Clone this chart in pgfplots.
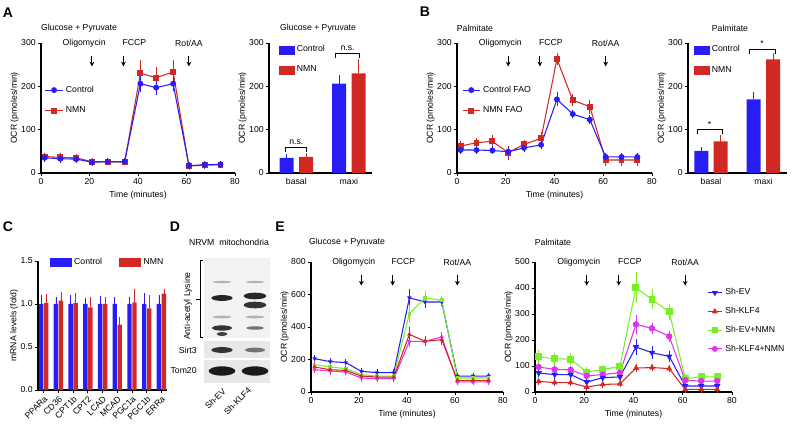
\documentclass[border=0pt]{standalone}
\usepackage{pgfplots}
\pgfplotsset{compat=1.18}
\usepackage{pgfplotstable}
\usepackage{fontspec}
\setmainfont{Liberation Sans}
\usetikzlibrary{arrows.meta}
\definecolor{cblue}{RGB}{40,30,245}
\definecolor{cred}{RGB}{210,40,35}
\definecolor{cgreen}{RGB}{120,240,40}
\definecolor{cmag}{RGB}{225,50,240}
\newcommand{\fs}{\fontsize{6.5}{7.5}\selectfont}
\newcommand{\fl}{\fontsize{10.5}{12}\selectfont\bfseries}
\pgfplotsset{
  gp/.style={scale only axis, anchor=south west, axis lines=left,
    axis line style={-, line width=0.9pt}, every tick/.style={black, line width=0.7pt},
    tick align=outside, major tick length=2.5pt, font=\fs,
    every tick label/.append style={inner sep=1.3pt},
    /pgf/number format/assume math mode=true, clip=false,
    xlabel style={font=\fs}, ylabel style={font=\fs}, ylabel shift=-3pt,
    legend style={draw=none, fill=none, font=\fs, inner sep=0pt, outer sep=0pt},
    legend cell align=left},
  lc/.style={gp, height=97.5pt, xmin=0, xmax=80, xtick={0,20,40,60,80}, ymin=0,
    xlabel={Time (minutes)}, ylabel={OCR (pmoles/min)}},
  bc/.style={gp, height=97.5pt, ymin=0, ymax=300, ytick={0,100,200,300}, xtick={0,1},
    xticklabels={basal,maxi}, major x tick style={draw=none}, ylabel={OCR (pmoles/min)}},
  ebs/.style={/pgfplots/error bars/y dir=both, /pgfplots/error bars/y explicit,
    /pgfplots/error bars/error bar style={line width=0.6pt, #1},
    /pgfplots/error bars/error mark options={#1, line width=0.6pt, mark size=2pt}},
  ebp/.style={/pgfplots/error bars/y dir=plus, /pgfplots/error bars/y explicit,
    /pgfplots/error bars/error bar style={line width=0.7pt, #1},
    /pgfplots/error bars/error mark options={#1, line width=0.7pt, mark size=2.5pt}},
}
\newcommand{\annot}[3]{%
 \node[font=\fs] at (axis cs:17.8,#1) {Oligomycin};
 \node[font=\fs] at (axis cs:38.5,#1) {FCCP};
 \node[font=\fs] at (axis cs:61,#1) {Rot/AA};
 \draw[-{Stealth[length=3.5pt,width=3.5pt]}, line width=0.8pt] (axis cs:21,#2) -- (axis cs:21,#3);
 \draw[-{Stealth[length=3.5pt,width=3.5pt]}, line width=0.8pt] (axis cs:34,#2) -- (axis cs:34,#3);
 \draw[-{Stealth[length=3.5pt,width=3.5pt]}, line width=0.8pt] (axis cs:61,#2) -- (axis cs:61,#3);
}

\pgfplotstableread{
t c ce n ne
1.5 35 3 38 3
8 33 3 36 3
14.5 32 3 35 3
21 25 2 26 2
27.5 26 2 26 2
34.5 26 2 26 2
41 206 12 230 25
47.5 197 10 220 18
54.5 206 10 233 22
61 17 2 16 2
67.5 19 2 18 2
74 20 2 19 2
}\tabA
\pgfplotstableread{
t c ce n ne
1.5 53 3 62 5
8 53 3 70 4
14.5 52 3 73 8
21 49 5 47 10
27.5 58 3 66 5
34.5 65 3 80 8
41 170 10 263 8
47.5 136 4 168 8
54.5 123 4 153 10
61 37 4 30 8
67.5 37 4 30 8
74 37 4 30 8
}\tabB
\pgfplotstableread{
t b be g ge r re m me
1.5 205 5 168 10 154 15 137 5
8 187 5 154 15 137 10 129 5
14.5 181 5 144 10 133 10 123 5
21 127 5 107 5 98 5 86 5
27.5 119 5 98 5 92 5 82 5
34.5 119 5 98 5 92 5 82 5
41 580 35 482 40 355 30 312 20
47.5 554 20 580 25 312 15 312 10
54.5 554 10 564 10 322 15 338 15
61 98 5 86 5 72 5 62 5
67.5 98 5 86 5 72 5 62 5
74 98 5 86 5 72 5 62 5
}\tabEL
\pgfplotstableread{
t b be g ge r re m me
1.5 73 6 135 15 41 3 96 6
8 67 5 128 12 36 3 87 6
14.5 67 5 126 12 36 3 85 6
21 38 6 77 8 19 3 62 6
27.5 55 8 86 8 29 3 67 6
34.5 58 8 99 8 31 3 74 6
41 173 20 401 50 92 4 260 25
47.5 151 15 356 28 94 4 245 12
54.5 137 12 308 22 90 4 214 12
61 23 6 51 8 10 3 45 5
67.5 23 6 58 6 10 3 42 5
74 23 6 58 6 10 3 42 5
}\tabER
\pgfplotstableread{
xc xn c ce n ne
-0.17 0.17 1.00 0.09 1.01 0.09
0.83 1.17 1.00 0.06 1.04 0.08
1.83 2.17 1.00 0.09 1.01 0.10
2.83 3.17 1.00 0.05 0.96 0.10
3.83 4.17 1.00 0.07 1.00 0.06
4.83 5.17 1.00 0.06 0.76 0.07
5.83 6.17 1.00 0.06 1.02 0.13
6.83 7.17 1.00 0.11 0.95 0.13
7.83 8.17 1.00 0.09 1.12 0.04
}\tabC

\begin{document}
\begin{tikzpicture}
\useasboundingbox (0,0) rectangle (600pt,318pt);

% panel letters and titles
\node[font=\fl] at (6pt,308.25pt) {A};
\node[font=\fl] at (318.75pt,309pt) {B};
\node[font=\fl] at (6pt,147.75pt) {C};
\node[font=\fl] at (131.25pt,147.75pt) {D};
\node[font=\fl] at (210pt,147.75pt) {E};
\node[font=\fs] at (59.25pt,297pt) {Glucose + Pyruvate};
\node[font=\fs] at (238.5pt,297pt) {Glucose + Pyruvate};
\node[font=\fs] at (356.25pt,297pt) {Palmitate};
\node[font=\fs] at (547.5pt,297pt) {Palmitate};
\node[font=\fs] at (260.25pt,136.5pt) {Glucose + Pyruvate};
\node[font=\fs] at (414.75pt,136.5pt) {Palmitate};

% ---------- A line
\begin{axis}[lc, at={(30.75pt,188.25pt)}, width=145.5pt, ymax=300, ytick={0,100,200,300},
  legend style={at={(0.02,0.69)}, anchor=north west, row sep=5.5pt},
  legend image code/.code={\draw[mark repeat=2,mark phase=2,#1] plot coordinates {(0pt,0pt) (6.5pt,0pt) (13pt,0pt)};}]
\addlegendimage{cblue, line width=0.8pt, mark=*, mark size=1.8pt}
\addlegendentry{Control}
\addlegendimage{cred, line width=0.8pt, mark=square*, mark size=1.8pt}
\addlegendentry{NMN}
\addplot[forget plot, cred, line width=0.8pt, mark=square*, mark size=1.8pt, ebs=cred] table[x=t,y=n,y error=ne]{\tabA};
\addplot[forget plot, cblue, line width=0.8pt, mark=*, mark size=1.8pt, ebs=cblue] table[x=t,y=c,y error=ce]{\tabA};
\annot{300}{270}{246}
\end{axis}

% ---------- A bar
\begin{axis}[bc, at={(201.75pt,188.25pt)}, width=77.25pt, xmin=-0.52, xmax=1.44,
  legend style={at={(0.097,1.0)}, anchor=north west, row sep=5pt},
  legend image code/.code={\fill[#1] (0pt,-3pt) rectangle (11pt,3pt);}]
\addlegendimage{cblue}\addlegendentry{Control}
\addlegendimage{cred}\addlegendentry{NMN}
\addplot[forget plot, ybar, bar width=10.5pt, bar shift=0pt, fill=cblue, draw=none, ebp=cblue]
  coordinates {(-0.185,35) +- (0,2) (0.815,206) +- (0,12)};
\addplot[forget plot, ybar, bar width=10.5pt, bar shift=0pt, fill=cred, draw=none, ebp=cred]
  coordinates {(0.185,37) +- (0,2) (1.185,230) +- (0,25)};
\draw[line width=0.6pt] (axis cs:-0.2,48) -- (axis cs:-0.2,58) -- (axis cs:0.2,58) -- (axis cs:0.2,48);
\node[font=\fs] at (axis cs:0,71) {n.s.};
\draw[line width=0.6pt] (axis cs:0.75,265) -- (axis cs:0.75,275) -- (axis cs:1.2,275) -- (axis cs:1.2,265);
\node[font=\fs] at (axis cs:0.975,288) {n.s.};
\end{axis}

% ---------- B line
\begin{axis}[lc, at={(342.75pt,188.25pt)}, width=146.25pt, ymax=300, ytick={0,100,200,300},
  legend style={at={(0.026,0.69)}, anchor=north west, row sep=5.5pt},
  legend image code/.code={\draw[mark repeat=2,mark phase=2,#1] plot coordinates {(0pt,0pt) (6.5pt,0pt) (13pt,0pt)};}]
\addlegendimage{cblue, line width=0.8pt, mark=*, mark size=1.8pt}
\addlegendentry{Control FAO}
\addlegendimage{cred, line width=0.8pt, mark=square*, mark size=1.8pt}
\addlegendentry{NMN FAO}
\addplot[forget plot, cred, line width=0.8pt, mark=square*, mark size=1.8pt, ebs=cred] table[x=t,y=n,y error=ne]{\tabB};
\addplot[forget plot, cblue, line width=0.8pt, mark=*, mark size=1.8pt, ebs=cblue] table[x=t,y=c,y error=ce]{\tabB};
\annot{300}{270}{246}
\end{axis}

% ---------- B bar
\begin{axis}[bc, at={(516pt,188.25pt)}, width=74.25pt, xmin=-0.44, xmax=1.45,
  legend style={at={(0.06,1.0)}, anchor=north west, row sep=5.5pt},
  legend image code/.code={\fill[#1] (0pt,-3pt) rectangle (11pt,3pt);}]
\addlegendimage{cblue}\addlegendentry{Control}
\addlegendimage{cred}\addlegendentry{NMN}
\addplot[forget plot, ybar, bar width=10.5pt, bar shift=0pt, fill=cblue, draw=none, ebp=cblue]
  coordinates {(-0.185,51) +- (0,2) (0.815,170) +- (0,10)};
\addplot[forget plot, ybar, bar width=10.5pt, bar shift=0pt, fill=cred, draw=none, ebp=cred]
  coordinates {(0.185,73) +- (0,7) (1.185,262) +- (0,7)};
\draw[line width=0.6pt] (axis cs:-0.27,90) -- (axis cs:-0.27,101) -- (axis cs:0.21,101) -- (axis cs:0.21,90);
\node[font=\fs] at (axis cs:-0.03,113) {*};
\draw[line width=0.6pt] (axis cs:0.73,275) -- (axis cs:0.73,286) -- (axis cs:1.22,286) -- (axis cs:1.22,275);
\node[font=\fs] at (axis cs:0.975,298) {*};
\end{axis}

% ---------- C
\begin{axis}[gp, at={(28.5pt,25.5pt)}, width=96.75pt, height=96.75pt,
  xmin=-0.39, xmax=8.38, ymin=0, ymax=1.5, ytick={0,0.5,1,1.5},
  yticklabel style={/pgf/number format/.cd, fixed, fixed zerofill, precision=1},
  xtick={0,...,8}, xticklabels={PPARa,CD36,CPT1b,CPT2,LCAD,MCAD,PGC1a,PGC1b,ERRa},
  xticklabel style={rotate=45, anchor=north east, inner sep=1pt},
  ylabel={mRNA levels (fold)},
  legend columns=2,
  legend style={at={(0.093,0.99)}, anchor=west, /tikz/every even column/.append style={column sep=11pt}},
  legend image code/.code={\fill[#1] (0pt,-3pt) rectangle (15.75pt,3pt);}]
\addlegendimage{cblue}\addlegendentry{Control}
\addlegendimage{cred}\addlegendentry{NMN}
\addplot[forget plot, ybar, bar width=3.3pt, bar shift=0pt, fill=cblue, draw=none,
  /pgfplots/error bars/y dir=plus, /pgfplots/error bars/y explicit,
  /pgfplots/error bars/error bar style={line width=0.6pt, cblue},
  /pgfplots/error bars/error mark options={cblue, line width=0.6pt, mark size=1.3pt}]
  table[x=xc,y=c,y error=ce]{\tabC};
\addplot[forget plot, ybar, bar width=3.3pt, bar shift=0pt, fill=cred, draw=none,
  /pgfplots/error bars/y dir=plus, /pgfplots/error bars/y explicit,
  /pgfplots/error bars/error bar style={line width=0.6pt, cred},
  /pgfplots/error bars/error mark options={cred, line width=0.6pt, mark size=1.3pt}]
  table[x=xn,y=n,y error=ne]{\tabC};
\end{axis}

% ---------- D (blot sketch)
\node[font=\fs] at (171.75pt,136.5pt) {NRVM~~mitochondria};
\fill[gray!10] (153pt,64.5pt) rectangle (202.5pt,124.5pt);
\fill[gray!18] (153pt,49.5pt) rectangle (202.5pt,62.25pt);
\fill[gray!18] (153pt,30.75pt) rectangle (202.5pt,48pt);
\fill[black!30] (166.5pt,106.5pt) ellipse (7pt and 0.8pt);
\fill[black!30] (191.25pt,106.5pt) ellipse (7pt and 0.8pt);
\fill[black!85] (166.5pt,94.5pt) ellipse (8pt and 2.2pt);
\fill[black!85] (191.25pt,96pt) ellipse (8.5pt and 2.5pt);
\fill[black!80] (191.25pt,89.25pt) ellipse (8.5pt and 2.5pt);
\fill[black!30] (166.5pt,80.25pt) ellipse (7pt and 1pt);
\fill[black!30] (191.25pt,80.25pt) ellipse (7pt and 1pt);
\fill[black!80] (166.5pt,72pt) ellipse (7.5pt and 2pt);
\fill[black!55] (191.25pt,72pt) ellipse (6.5pt and 1.3pt);
\fill[black!75] (166.5pt,67.5pt) ellipse (4pt and 1.5pt);
\fill[black!80] (166.5pt,55.5pt) ellipse (8pt and 2.2pt);
\fill[black!55] (191.25pt,55.5pt) ellipse (7.5pt and 1.8pt);
\fill[black!90] (166.5pt,39.75pt) ellipse (10pt and 3.5pt);
\fill[black!90] (191.25pt,39.75pt) ellipse (10pt and 3.5pt);
\draw[line width=0.7pt] (152.5pt,123pt) -- (150pt,123pt) -- (150pt,65.25pt) -- (152.5pt,65.25pt);
\draw[line width=0.7pt] (147pt,93.75pt) -- (150pt,93.75pt);
\node[font=\fs, rotate=90] at (141pt,88.5pt) {Anti-acetyl Lysine};
\node[font=\fs, anchor=east] at (151pt,55.5pt) {Sirt3};
\node[font=\fs, anchor=east] at (151pt,39.75pt) {Tom20};
\node[font=\fs, rotate=45, anchor=east, inner sep=1pt] at (169pt,26.5pt) {Sh-EV};
\node[font=\fs, rotate=45, anchor=east, inner sep=1pt] at (188pt,27pt) {Sh-KLF4};

% ---------- E left
\begin{axis}[lc, at={(233.25pt,24pt)}, width=144pt, ymax=800, ytick={0,200,400,600,800}]
\addplot[cblue, line width=0.8pt, mark=triangle*, mark size=1.2pt, mark options={rotate=180}, ebs=cblue] table[x=t,y=b,y error=be]{\tabEL};
\addplot[cgreen, line width=0.8pt, mark=square*, mark size=1pt, ebs=cgreen] table[x=t,y=g,y error=ge]{\tabEL};
\addplot[cmag, line width=0.8pt, mark=*, mark size=1pt, ebs=cmag] table[x=t,y=m,y error=me]{\tabEL};
\addplot[cred, line width=0.8pt, mark=triangle*, mark size=1.2pt, ebs=cred] table[x=t,y=r,y error=re]{\tabEL};
\annot{800}{720}{655}
\end{axis}

% ---------- E right
\begin{axis}[lc, at={(401.25pt,24pt)}, width=147.75pt, ymax=500, ytick={0,100,200,300,400,500},
  legend style={at={(0.873,0.815)}, anchor=north west, row sep=3.8pt},
  legend image code/.code={\draw[mark repeat=2,mark phase=2,#1] plot coordinates {(0pt,0pt) (5.5pt,0pt) (11pt,0pt)};}]
\addlegendimage{cblue, line width=0.8pt, mark=triangle*, mark size=1.8pt, mark options={rotate=180}}
\addlegendentry{Sh-EV}
\addlegendimage{cred, line width=0.8pt, mark=triangle*, mark size=1.8pt}
\addlegendentry{Sh-KLF4}
\addlegendimage{cgreen, line width=0.8pt, mark=square*, mark size=1.8pt}
\addlegendentry{Sh-EV+NMN}
\addlegendimage{cmag, line width=0.8pt, mark=*, mark size=1.8pt}
\addlegendentry{Sh-KLF4+NMN}
\addplot[forget plot, cgreen, line width=0.8pt, mark=square*, mark size=2.2pt, ebs=cgreen] table[x=t,y=g,y error=ge]{\tabER};
\addplot[forget plot, cmag, line width=0.8pt, mark=*, mark size=2pt, ebs=cmag] table[x=t,y=m,y error=me]{\tabER};
\addplot[forget plot, cblue, line width=0.8pt, mark=triangle*, mark size=2pt, mark options={rotate=180}, ebs=cblue] table[x=t,y=b,y error=be]{\tabER};
\addplot[forget plot, cred, line width=0.8pt, mark=triangle*, mark size=1.8pt, ebs=cred] table[x=t,y=r,y error=re]{\tabER};
\annot{500}{450}{409}
\end{axis}
\end{tikzpicture}
\end{document}
